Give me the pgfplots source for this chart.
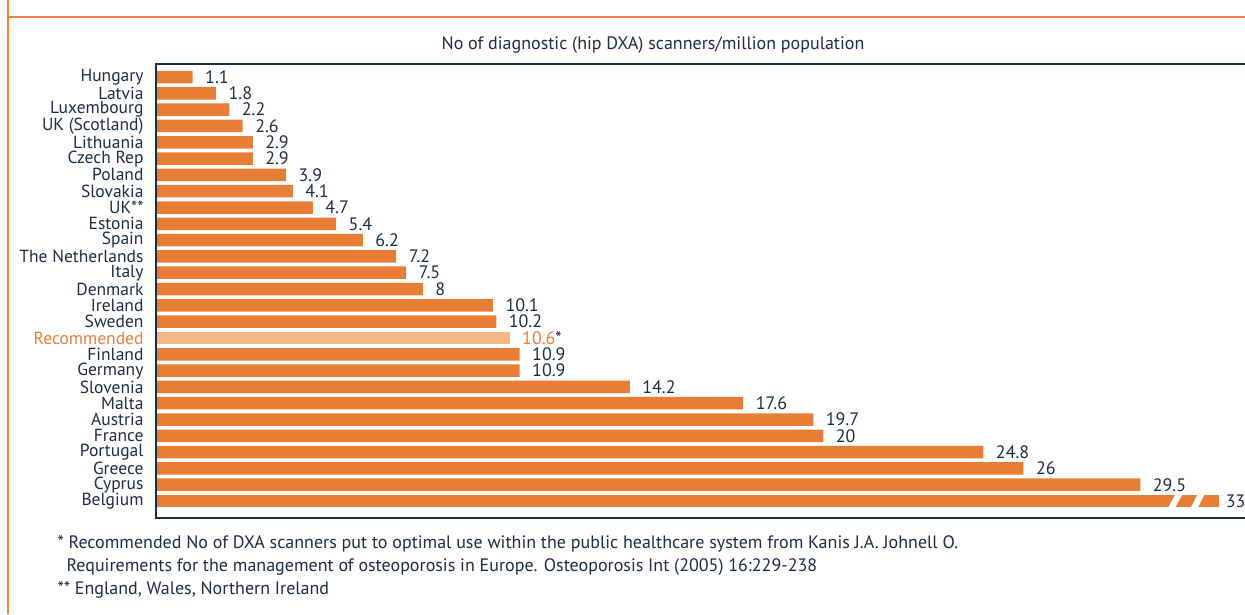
\documentclass[border=0pt]{standalone}
\usepackage{pgfplots}
\pgfplotsset{compat=1.18}
\usepackage{fontspec}
\setmainfont{PT Sans}
\definecolor{barorange}{HTML}{E87D35}
\definecolor{lightorange}{HTML}{F3B985}
\definecolor{navy}{HTML}{1B2D45}
\definecolor{frameor}{HTML}{EF8540}
\begin{document}
\begin{tikzpicture}
\useasboundingbox (0pt,0pt) rectangle (1245pt,614pt);
\draw[frameor, line width=1.5pt] (8pt,614pt) -- (8pt,0pt);
\draw[frameor, line width=2pt] (8pt,597pt) -- (1245pt,597pt);
\node[text=navy, font=\fontsize{18}{20}\selectfont] at (653pt,569pt) {No of diagnostic (hip DXA) scanners/million population};
\begin{axis}[
  at={(156pt,96pt)}, anchor=south west, scale only axis,
  width=1089pt, height=454pt,
  xmin=0, xmax=32.64, ymin=-0.80, ymax=27.04, y dir=reverse,
  axis line style={draw=none}, clip=false,
  xtick=\empty, ytick={0,...,26}, major tick length=0pt,
  yticklabels={Hungary,Latvia,Luxembourg,UK (Scotland),Lithuania,Czech Rep,Poland,Slovakia,UK**,Estonia,Spain,The Netherlands,Italy,Denmark,Ireland,Sweden,\textcolor{barorange}{Recommended},Finland,Germany,Slovenia,Malta,Austria,France,Portugal,Greece,Cyprus,Belgium},
  yticklabel style={font=\fontsize{17.5}{17.5}\selectfont, text=navy, anchor=east, xshift=-9pt, inner ysep=1pt},
  xbar, bar width=12.5pt,
  point meta=explicit symbolic,
  nodes near coords,
  nodes near coords style={anchor=west, xshift=9pt, font=\fontsize{18}{18}\selectfont, text=navy, inner ysep=1pt},
]
\addplot[fill=barorange, draw=none, bar shift=0pt] coordinates {
(1.1,0) [1.1]
(1.8,1) [1.8]
(2.2,2) [2.2]
(2.6,3) [2.6]
(2.9,4) [2.9]
(2.9,5) [2.9]
(3.9,6) [3.9]
(4.1,7) [4.1]
(4.7,8) [4.7]
(5.4,9) [5.4]
(6.2,10) [6.2]
(7.2,11) [7.2]
(7.5,12) [7.5]
(8,13) [8]
(10.1,14) [10.1]
(10.2,15) [10.2]
(10.9,17) [10.9]
(10.9,18) [10.9]
(14.2,19) [14.2]
(17.6,20) [17.6]
(19.7,21) [19.7]
(20,22) [20]
(24.8,23) [24.8]
(26,24) [26]
(29.5,25) [29.5]
};
\addplot[fill=barorange, draw=none, bar shift=0pt, nodes near coords style={xshift=-6pt}] coordinates {
(31.87,26) [33]
};
\addplot[fill=lightorange, draw=none, bar shift=0pt] coordinates {
(10.6,16) [{\textcolor{barorange}{10.6}*}]
};
\fill[white] (axis cs:30.31,26.5) -- (axis cs:30.52,26.5) -- (axis cs:30.79,25.5) -- (axis cs:30.58,25.5) -- cycle;
\fill[white] (axis cs:30.99,26.5) -- (axis cs:31.20,26.5) -- (axis cs:31.45,25.5) -- (axis cs:31.24,25.5) -- cycle;
\end{axis}
\draw[navy, line width=1.5pt] (1250pt,550pt) -- (156pt,550pt) -- (156pt,96pt) -- (1250pt,96pt);
\node[anchor=base west, text=navy, font=\fontsize{18}{20}\selectfont] at (54pt,66pt) {* Recommended No of DXA scanners put to optimal use within the public healthcare system from Kanis J.A. Johnell O.};
\node[anchor=base west, text=navy, font=\fontsize{18}{20}\selectfont] at (63pt,43pt) {Requirements for the management of osteoporosis in Europe. Osteoporosis Int (2005) 16:229-238};
\node[anchor=base west, text=navy, font=\fontsize{18}{20}\selectfont] at (54pt,20pt) {** England, Wales, Northern Ireland};
\end{tikzpicture}
\end{document}
